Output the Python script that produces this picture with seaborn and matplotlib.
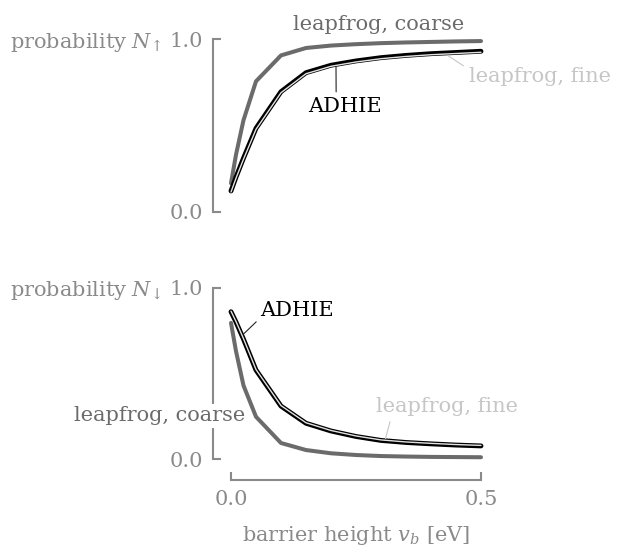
import numpy as np
import pandas as pd
import matplotlib
matplotlib.use("Agg")
import matplotlib.pyplot as plt
import seaborn as sns

# barrier heights [eV]
barrier = [0.0, 0.01, 0.025, 0.05, 0.1, 0.15, 0.2, 0.25, 0.3, 0.35, 0.4, 0.45, 0.5]

# probability N_up
coarse_up = [0.165, 0.33, 0.53, 0.755, 0.905, 0.948, 0.962, 0.970, 0.976, 0.980, 0.983, 0.986, 0.988]
adhie_up = [0.120, 0.200, 0.310, 0.483, 0.695, 0.805, 0.848, 0.873, 0.892, 0.905, 0.915, 0.922, 0.929]
fine_up = [0.114, 0.194, 0.304, 0.477, 0.689, 0.799, 0.842, 0.867, 0.886, 0.899, 0.909, 0.916, 0.923]

# probability N_down
coarse_dn = [0.795, 0.63, 0.43, 0.248, 0.095, 0.054, 0.035, 0.025, 0.019, 0.016, 0.014, 0.013, 0.012]
adhie_dn = [0.860, 0.800, 0.700, 0.520, 0.310, 0.210, 0.165, 0.133, 0.110, 0.098, 0.090, 0.083, 0.078]
fine_dn = [0.863, 0.803, 0.703, 0.523, 0.313, 0.213, 0.168, 0.136, 0.113, 0.101, 0.093, 0.086, 0.081]

x_ticks = [0.0, 0.5]
x_ticklabels = ["0.0", "0.5"]
y_ticks = [0.0, 1.0]
y_ticklabels = ["0.0", "1.0"]

sns.set_theme(style="ticks")
plt.rcParams["font.family"] = ["DejaVu Serif"]
plt.rcParams["mathtext.fontset"] = "dejavuserif"

AXIS_GRAY = "#8a8a8a"
COARSE = "#6b6b6b"
FINE_TXT = "#c6c6c6"
FINE_LINE = "#e2e2e2"
FS = 15

fig = plt.figure(figsize=(6.18, 5.49), dpi=100)
ax_up = fig.add_axes([231 / 618, 1 - 211.7 / 549, 250 / 618, 172.7 / 549])
ax_dn = fig.add_axes([231 / 618, 1 - 459.3 / 549, 250 / 618, 171.6 / 549])


def draw(ax, coarse, adhie, fine):
    df = pd.DataFrame({"v": barrier, "coarse": coarse, "adhie": adhie, "fine": fine})
    sns.lineplot(data=df, x="v", y="coarse", ax=ax, color=COARSE, linewidth=2.9,
                 estimator=None, sort=False, clip_on=False)
    sns.lineplot(data=df, x="v", y="adhie", ax=ax, color="black", linewidth=3.5,
                 estimator=None, sort=False, clip_on=False)
    sns.lineplot(data=df, x="v", y="fine", ax=ax, color=FINE_LINE, linewidth=1.0,
                 estimator=None, sort=False, clip_on=False)
    ax.set_xlim(0, 0.5)
    ax.set_ylim(0, 1)
    ax.set_xlabel("")
    ax.set_ylabel("")
    for s in ("top", "right"):
        ax.spines[s].set_visible(False)
    ax.spines["left"].set_position(("outward", 13.2))
    ax.spines["left"].set_bounds(0, 1)
    ax.spines["left"].set_color(AXIS_GRAY)
    ax.spines["left"].set_linewidth(1.5)
    ax.set_yticks(y_ticks, y_ticklabels)
    ax.tick_params(axis="y", direction="in", length=6, width=1.5, color=AXIS_GRAY,
                   labelcolor=AXIS_GRAY, labelsize=FS, pad=7)


draw(ax_up, coarse_up, adhie_up, fine_up)
draw(ax_dn, coarse_dn, adhie_dn, fine_dn)

# top panel: no x axis
ax_up.spines["bottom"].set_visible(False)
ax_up.set_xticks([])

# bottom panel x axis
ax_dn.spines["bottom"].set_position(("outward", 14.9))
ax_dn.spines["bottom"].set_bounds(0, 0.5)
ax_dn.spines["bottom"].set_color(AXIS_GRAY)
ax_dn.spines["bottom"].set_linewidth(1.5)
ax_dn.set_xticks(x_ticks, x_ticklabels)
ax_dn.tick_params(axis="x", direction="in", length=6, width=1.5, color=AXIS_GRAY,
                  labelcolor=AXIS_GRAY, labelsize=FS, pad=7)
ax_dn.set_xlabel("barrier height $v_b$ [eV]", fontsize=FS, color=AXIS_GRAY, labelpad=11)

# horizontal axis titles next to the 1.0 tick
for ax, lab in ((ax_up, r"probability $N_{\!\uparrow}$"), (ax_dn, r"probability $N_{\!\downarrow}$")):
    ax.annotate(lab, xy=(0, 1), xycoords=("axes fraction", "data"),
                xytext=(-50, 0), textcoords="offset points",
                ha="right", va="center_baseline", fontsize=FS, color=AXIS_GRAY)

# --- series labels, top panel ---
ax_up.text(0.296, 1.052, "leapfrog, coarse", ha="center", va="baseline",
           fontsize=FS, color=COARSE)
x0 = 0.21
ax_up.annotate("ADHIE", xy=(x0, np.interp(x0, barrier, adhie_up) - 0.013),
               xytext=(0.228, 0.580), ha="center", va="baseline", fontsize=FS, color="black",
               arrowprops=dict(arrowstyle="-", color="#222222", lw=0.8,
                               shrinkA=1, shrinkB=0, relpos=(0.38, 1.0)))
x0 = 0.434
ax_up.annotate("leapfrog, fine", xy=(x0, np.interp(x0, barrier, fine_up) - 0.01),
               xytext=(0.476, 0.753), ha="left", va="baseline", fontsize=FS, color=FINE_TXT,
               arrowprops=dict(arrowstyle="-", color=FINE_TXT, lw=0.8,
                               shrinkA=2, shrinkB=0, relpos=(0.0, 0.85)))

# --- series labels, bottom panel ---
ax_dn.text(0.028, 0.223, "leapfrog, coarse", ha="right", va="baseline",
           fontsize=FS, color=COARSE, zorder=5,
           bbox=dict(boxstyle="square,pad=0.12", facecolor="white", edgecolor="none"))
x0 = 0.025
ax_dn.annotate("ADHIE", xy=(x0, np.interp(x0, barrier, adhie_dn) + 0.03),
               xytext=(0.059, 0.835), ha="left", va="baseline", fontsize=FS, color="black",
               arrowprops=dict(arrowstyle="-", color="#222222", lw=0.8,
                               shrinkA=1, shrinkB=0, relpos=(0.0, 0.12)))
x0 = 0.309
ax_dn.annotate("leapfrog, fine", xy=(x0, np.interp(x0, barrier, fine_dn) + 0.01),
               xytext=(0.29, 0.277), ha="left", va="baseline", fontsize=FS, color=FINE_TXT,
               arrowprops=dict(arrowstyle="-", color=FINE_TXT, lw=0.8,
                               shrinkA=2, shrinkB=0, relpos=(0.11, 0.0)))

fig.savefig("out.png", dpi=100)
